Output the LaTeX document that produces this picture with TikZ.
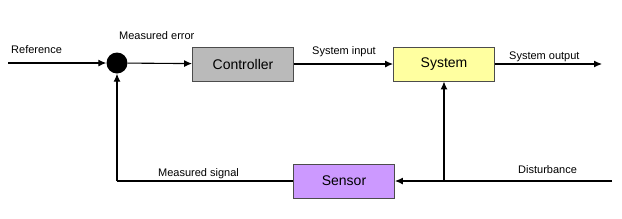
\documentclass[tikz,border=0pt]{standalone}
\usepackage{fontspec}
\setmainfont{Liberation Sans}
\usetikzlibrary{arrows.meta}
\begin{document}
\begin{tikzpicture}[x=1pt,y=-1pt,
  blk/.style={draw=black!70, line width=0.9pt, minimum width=101pt, minimum height=34pt, inner sep=0pt, font=\fontsize{14}{16}\selectfont},
  lbl/.style={font=\fontsize{11}{13}\selectfont, inner sep=0pt},
  conn/.style={line width=1.1pt, -{Latex[length=8pt,width=7pt]}},
  ln/.style={line width=1.1pt}]
\useasboundingbox (0,0) rectangle (622,218);
\fill[white] (0,0) rectangle (622,218);
\coordinate (ref) at (8,63);
\node[circle, fill=black, minimum size=21pt, inner sep=0pt] (sum) at (117,63) {};
\node[blk, fill=black!27] (ctrl) at (243,64) {Controller};
\node[blk, fill={rgb,255:red,255;green,255;blue,160}] (sys) at (444,64) {System};
\node[blk, fill={rgb,255:red,204;green,153;blue,255}] (sens) at (344,181) {Sensor};
\coordinate (out) at (602,64);
\coordinate (dist) at (612,181);
\coordinate (dj) at (444,181);
\coordinate (fl) at (117,181);
\draw[conn] (ref) -- (sum);
\draw[conn] (sum) -- (ctrl);
\draw[conn] (ctrl) -- (sys);
\draw[conn] (sys) -- (out);
\draw[conn] (dist) -- (sens);
\draw[conn] (dj) -- (sys);
\draw[ln] (sens) -- (fl);
\draw[conn] (fl) -- (sum);
\node[lbl, anchor=base west] (l1) at (11,53) {Reference};
\node[lbl, anchor=base west] (l2) at (119,39) {Measured error};
\node[lbl, anchor=base west] (l3) at (312,54) {System input};
\node[lbl, anchor=base west] (l4) at (509,59) {System output};
\node[lbl, anchor=base west] (l5) at (518,173) {Disturbance};
\node[lbl, anchor=base west] (l6) at (158,176) {Measured signal};
\end{tikzpicture}
\end{document}
